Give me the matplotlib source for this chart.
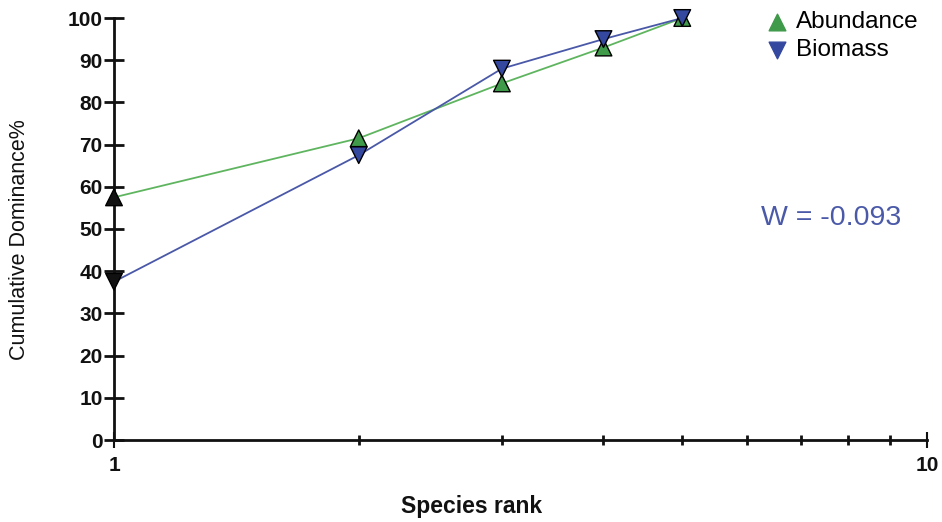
import matplotlib
matplotlib.use("Agg")
import matplotlib.pyplot as plt
from matplotlib.ticker import FixedLocator, NullFormatter

plt.rcParams['font.family'] = ['Liberation Sans', 'DejaVu Sans']

# Species rank and cumulative dominance (%)
rank = [1, 2, 3, 4, 5]
abundance = [57.5, 71.5, 84.5, 93.0, 100.0]
biomass = [37.5, 67.5, 88.0, 95.0, 100.0]
w_label = "W = -0.093"

green_line = "#5fb55f"
green_fill = "#3f9a4a"
blue_line = "#4a58a8"
blue_fill = "#3548a0"

W, H = 942, 522
fig = plt.figure(figsize=(W / 100, H / 100), dpi=100)
ax = fig.add_axes([114 / W, 1 - 440 / H, 813 / W, 422 / H])

ax.plot(rank, abundance, color=green_line, lw=1.3, zorder=2)
ax.plot(rank, biomass, color=blue_line, lw=1.3, zorder=2)

# the first-rank symbols print dark in the original figure
ab_fc = ["#111111"] + [green_fill] * (len(rank) - 1)
bi_fc = ["#111111"] + [blue_fill] * (len(rank) - 1)
ax.scatter(rank, abundance, marker="^", s=12 ** 2, c=ab_fc,
           edgecolors="black", linewidths=1.0, zorder=3, clip_on=False)
ax.scatter(rank, biomass, marker="v", s=12 ** 2, c=bi_fc,
           edgecolors="black", linewidths=1.0, zorder=3, clip_on=False)

ax.set_xscale("log")
ax.set_xlim(1, 10)
ax.set_ylim(0, 100)
ax.set_yticks(range(0, 101, 10))
ax.xaxis.set_major_locator(FixedLocator([1, 10]))
ax.xaxis.set_minor_locator(FixedLocator([2, 3, 4, 5, 6, 7, 8, 9]))
ax.xaxis.set_minor_formatter(NullFormatter())
ax.set_xticklabels(["1", "10"])

for s in ("top", "right"):
    ax.spines[s].set_visible(False)
for s in ("left", "bottom"):
    ax.spines[s].set_linewidth(2.0)
    ax.spines[s].set_color("#111111")

ax.tick_params(axis="y", which="major", direction="inout", length=14.5, width=2,
               labelsize=15, pad=1, colors="#111111")
ax.tick_params(axis="x", which="major", direction="inout", length=11.5, width=1.5,
               labelsize=15, pad=6, colors="#111111")
ax.tick_params(axis="x", which="minor", direction="inout", length=7, width=2,
               colors="#111111")
for lab in ax.get_xticklabels() + ax.get_yticklabels():
    lab.set_fontweight("bold")

fig.text(20 / W, 1 - 240 / H, "Cumulative Dominance%", rotation=90,
         ha="center", va="center", fontsize=15.5, color="#111111")
fig.text(472 / W, 1 - 507 / H, "Species rank", ha="center", va="center",
         fontsize=16.5, fontweight="bold", color="#111111")

# legend with marker symbols only
h1 = ax.scatter([], [], marker="^", s=12 ** 2, c=green_fill)
h2 = ax.scatter([], [], marker="v", s=12 ** 2, c=blue_fill)
ax.legend([h1, h2], ["Abundance", "Biomass"], loc="upper left",
          bbox_to_anchor=(768 / W, 1 - 11 / H), bbox_transform=fig.transFigure,
          frameon=False, fontsize=17.5, handlelength=0.7, handletextpad=0.45,
          labelspacing=0.25, borderaxespad=0, borderpad=0, scatterpoints=1)

fig.text(831 / W, 1 - 218 / H, w_label, ha="center", va="center",
         fontsize=20.5, color="#4b5aa8")

fig.savefig("out.png", dpi=100)
